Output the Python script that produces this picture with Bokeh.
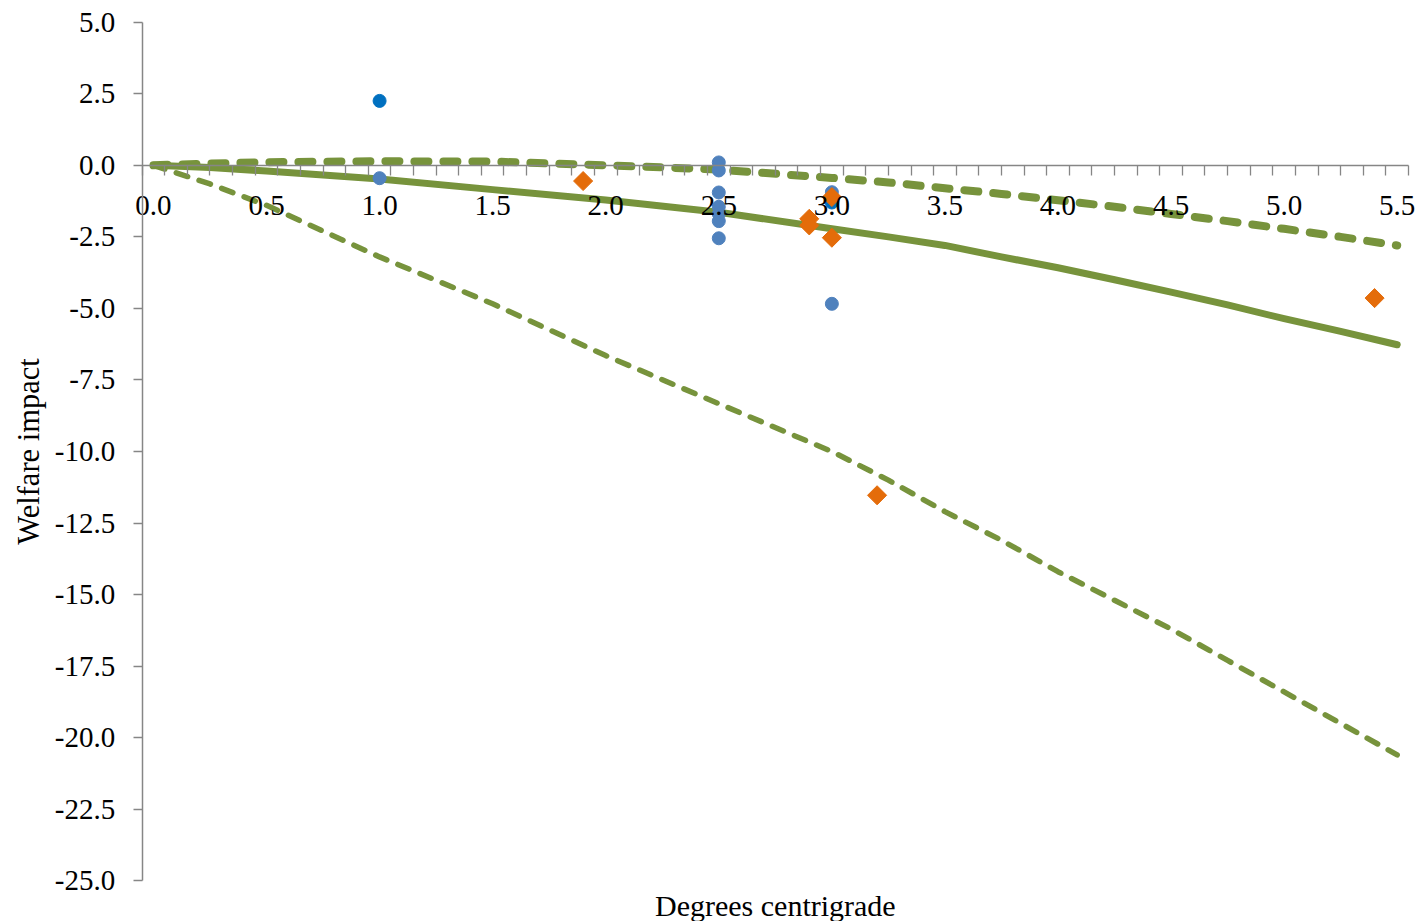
import numpy as np
from bokeh.plotting import figure
from bokeh.models import FixedTicker, PrintfTickFormatter, Range1d, Label
from bokeh.embed import file_html
from bokeh.resources import INLINE

# ---- data ----
curve_x = [0.0, 0.25, 0.5, 1.0, 1.5, 2.0, 2.5, 3.0, 3.25, 3.5, 3.75, 4.0, 4.25, 4.5, 4.75, 5.0, 5.25, 5.5]
central = [0.0, -0.08, -0.2, -0.48, -0.85, -1.21, -1.64, -2.22, -2.5, -2.8, -3.2, -3.58, -4.0, -4.43, -4.88, -5.36, -5.8, -6.27]
upper = [0.0, 0.06, 0.11, 0.14, 0.13, 0.0, -0.15, -0.44, -0.6, -0.8, -1.0, -1.22, -1.45, -1.7, -1.95, -2.22, -2.5, -2.8]
lower = [0.0, -0.65, -1.4, -3.2, -4.84, -6.65, -8.33, -10.0, -11.0, -12.1, -13.1, -14.2, -15.2, -16.2, -17.3, -18.4, -19.5, -20.6]

blue_x = [1.0, 2.5, 2.5, 2.5, 2.5, 2.5, 2.5, 2.5, 3.0, 3.0]
blue_y = [-0.45, 0.1, -0.18, -0.95, -1.45, -1.7, -1.95, -2.55, -0.94, -4.84]
dark_x = [1.0, 3.0]
dark_y = [2.25, -1.3]
orange_x = [1.9, 2.9, 2.9, 3.0, 3.0, 3.2, 5.4]
orange_y = [-0.55, -1.87, -2.1, -1.11, -2.53, -11.53, -4.64]

x_ticks = [0.0, 0.5, 1.0, 1.5, 2.0, 2.5, 3.0, 3.5, 4.0, 4.5, 5.0, 5.5]
y_ticks = [5.0, 2.5, 0.0, -2.5, -5.0, -7.5, -10.0, -12.5, -15.0, -17.5, -20.0, -22.5, -25.0]

X_AXIS_BOUNDS = (-0.05, 5.55)
Y_AXIS_BOUNDS = (-25.0, 5.0)

GREEN = "#77933C"
BLUE = "#4F81BD"
DARK_BLUE = "#0070C0"
ORANGE = "#E46C0A"
AXIS = "#868686"
FONT = "Liberation Serif"
FS = "29px"
TFS = "30.5px"

# The frame covers the whole canvas; the axes are drawn at fixed positions
# inside it (so that the labels are not clipped), limited by their bounds.
p = figure(width=1419, height=921,
           x_range=Range1d(-0.6764, 5.5986), y_range=Range1d(-26.422, 5.758),
           output_backend="svg", toolbar_location=None,
           min_border=0, min_border_left=0, min_border_right=0,
           min_border_top=0, min_border_bottom=0)
p.grid.visible = False
p.outline_line_color = None
p.background_fill_color = "white"
p.border_fill_color = "white"

xa = p.xaxis[0]
xa.fixed_location = 0
xa.bounds = X_AXIS_BOUNDS
xa.ticker = FixedTicker(ticks=x_ticks,
                        minor_ticks=[round(v, 2) for v in np.arange(-0.05, 5.56, 0.1)])
xa.formatter = PrintfTickFormatter(format="%.1f")
xa.major_tick_out = 0
xa.major_tick_in = 0
xa.minor_tick_out = 10
xa.minor_tick_in = 0
xa.axis_line_color = AXIS
xa.axis_line_width = 1.5
xa.major_tick_line_color = AXIS
xa.minor_tick_line_color = AXIS
xa.minor_tick_line_width = 1.3
xa.major_label_text_font = FONT
xa.major_label_text_font_size = FS
xa.major_label_text_color = "black"
xa.major_label_standoff = 21

ya = p.yaxis[0]
ya.fixed_location = X_AXIS_BOUNDS[0]
ya.bounds = Y_AXIS_BOUNDS
ya.ticker = FixedTicker(ticks=y_ticks)
ya.formatter = PrintfTickFormatter(format="%.1f")
ya.major_tick_out = 9
ya.major_tick_in = 0
ya.minor_tick_line_color = None
ya.axis_line_color = AXIS
ya.axis_line_width = 1.5
ya.major_tick_line_color = AXIS
ya.major_tick_line_width = 1.3
ya.major_label_text_font = FONT
ya.major_label_text_font_size = FS
ya.major_label_text_color = "black"
ya.major_label_standoff = 18
ya.axis_label = "Welfare impact"
ya.axis_label_text_font = FONT
ya.axis_label_text_font_size = TFS
ya.axis_label_text_font_style = "normal"
ya.axis_label_text_color = "black"
ya.axis_label_standoff = 6

# curves
p.line(curve_x, lower, line_color=GREEN, line_width=5.5, line_dash="12 12",
       line_cap="round", line_join="round")
p.line(curve_x, upper, line_color=GREEN, line_width=8, line_dash="14 15",
       line_cap="round", line_join="round")
p.line(curve_x, central, line_color=GREEN, line_width=7,
       line_cap="round", line_join="round")

# points
p.scatter(blue_x, blue_y, marker="circle", size=13, fill_color=BLUE, line_color=BLUE)
p.scatter(dark_x, dark_y, marker="circle", size=13, fill_color=DARK_BLUE, line_color=DARK_BLUE)
p.scatter(orange_x, orange_y, marker="square", angle=np.pi / 4, size=13.5,
          fill_color=ORANGE, line_color=ORANGE)

# x axis title, centred under the axis
p.add_layout(Label(x=sum(X_AXIS_BOUNDS) / 2, y=Y_AXIS_BOUNDS[0], y_offset=-25,
                   text="Degrees centrigrade",
                   text_align="center", text_baseline="middle",
                   text_font=FONT, text_font_size="30px", text_color="black"))

open("out.html", "w").write(file_html(p, INLINE))
